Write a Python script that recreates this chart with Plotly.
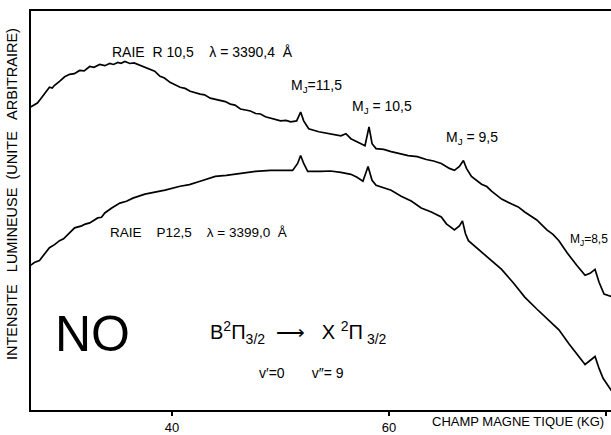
import plotly.graph_objects as go

# Champ magnetique (kG) and intensite (unite arbitraire)
field_r = [26.94, 27.3, 27.59, 27.9, 28.24, 28.70, 28.95, 29.17, 29.63, 30.1, 30.56, 31.0, 31.48, 31.9, 32.41, 32.8, 33.33,
           33.8, 34.26, 34.6, 35.00, 35.3, 35.65, 36.11, 36.5, 37.04, 37.5, 37.96, 38.4, 38.89, 39.3, 39.81, 40.74, 41.2,
           41.67, 42.59, 43.0, 43.52, 44.44, 44.9, 45.37, 45.8, 46.30, 47.22, 47.7, 48.15, 48.6, 49.07, 50.00,
           50.5, 50.93, 51.48, 51.85, 52.13, 52.59, 53.52, 54.63, 55.56, 56.02, 56.48, 57.41, 57.78, 58.15,
           58.43, 58.80, 59.5, 60.19, 61.0, 61.76, 62.6, 63.43, 64.1, 64.81, 65.56, 66.02, 66.48, 66.85, 67.13,
           67.59, 68.52, 69.0, 69.44, 70.37, 71.30, 71.9, 72.50, 73.61, 74.54, 75.1, 75.65, 76.39, 77.31, 78.06,
           78.52, 78.98, 79.35, 79.81, 80.65]
intens_r = [75.93, 76.6, 76.92, 78.0, 79.16, 80.89, 80.7, 81.39, 82.38, 83.5, 84.12, 84.3, 85.11, 85.0, 86.10, 85.9, 86.60,
            86.3, 86.85, 86.6, 87.10, 86.9, 87.34, 86.85, 87.0, 86.35, 86.0, 85.36, 84.9, 83.62, 83.2, 82.13, 80.89, 80.6,
            79.90, 79.16, 79.0, 78.16, 77.67, 77.3, 76.67, 76.4, 75.43, 74.94, 74.3, 74.19, 73.5, 73.20, 72.46,
            72.6, 72.21, 72.46, 74.69, 72.46, 70.47, 69.73, 69.23, 68.73, 69.23, 67.99, 66.75, 66.25, 70.97,
            66.75, 65.51, 65.3, 64.76, 64.3, 63.77, 63.5, 62.78, 62.4, 61.79, 60.55, 60.05, 61.04, 62.53, 60.55,
            58.56, 56.58, 56.0, 54.84, 52.85, 51.61, 50.9, 49.63, 47.64, 45.16, 44.0, 42.43, 39.45, 36.23, 33.75,
            34.24, 35.24, 32.01, 29.03, 28.29]

field_p = [26.94, 27.31, 27.78, 28.24, 28.70, 29.17, 29.63, 30.0, 30.37, 31.02, 31.67, 32.0, 32.41, 33.15, 33.5, 33.80,
           34.44, 35.19, 35.8, 36.39, 37.50, 38.43, 39.35, 40.74, 41.6, 42.59, 43.98, 45.0, 46.30, 47.69, 49.07,
           50.46, 51.11, 51.57, 51.85, 52.13, 52.50, 53.70, 54.6, 55.56, 56.48, 57.04, 57.59, 58.06, 58.43, 58.80,
           59.54, 60.19, 61.11, 62.04, 62.96, 63.89, 64.81, 65.28, 66.02, 66.48, 66.76, 67.04, 67.31, 68.24,
           69.17, 70.37, 71.48, 72.50, 73.61, 74.54, 75.65, 76.57, 77.50, 78.06, 78.52, 78.98, 79.35, 79.72, 80.65]
intens_p = [36.23, 36.97, 37.47, 38.96, 40.69, 41.44, 42.43, 42.9, 43.92, 45.66, 46.15, 46.6, 46.90, 48.14, 48.3, 49.38,
            50.62, 51.86, 52.3, 53.10, 54.09, 54.59, 55.09, 56.08, 56.5, 57.32, 58.56, 58.8, 59.31, 59.80, 60.05,
            60.05, 60.05, 61.79, 63.77, 61.79, 59.80, 59.80, 59.9, 59.55, 59.06, 58.31, 57.32, 61.04, 57.57, 56.33,
            55.58, 55.09, 53.60, 52.36, 50.62, 49.63, 48.39, 46.65, 45.16, 46.15, 47.39, 44.17, 42.43, 40.20,
            38.21, 35.24, 31.76, 28.29, 25.31, 22.83, 20.10, 16.63, 13.40, 11.41, 12.41, 13.40, 10.42, 7.94, 4.22]

tick_vals = [40, 60, 80]
tick_text = ["40", "60", ""]

FONT = "Liberation Sans"

fig = go.Figure()
fig.add_trace(go.Scatter(x=field_r, y=intens_r, mode="lines",
                         line=dict(color="black", width=1.7), showlegend=False))
fig.add_trace(go.Scatter(x=field_p, y=intens_p, mode="lines",
                         line=dict(color="black", width=1.7), showlegend=False))

ann = []
def A(text, x, y, size, xref="x", yref="y", xanchor="center", yanchor="middle", **kw):
    ann.append(dict(text=text, x=x, y=y, xref=xref, yref=yref, showarrow=False,
                    xanchor=xanchor, yanchor=yanchor,
                    font=dict(family=FONT, size=size, color="black"), **kw))

A("RAIE  R 10,5    λ = 3390,4  Å", 42.78, 89.8, 14)
A("M<sub>J</sub>=11,5", 53.3, 81.3, 14)
A("M<sub>J</sub> = 10,5", 59.35, 75.9, 14)
A("M<sub>J</sub> = 9,5", 67.6, 68.2, 14)
A("M<sub>J</sub>=8,5", 80.35, 42.6, 12, xanchor="right")
A("RAIE    P12,5    λ = 3399,0  Å", 42.4, 44.4, 13.5)
A("NO", 32.69, 19.0, 50)
A("B<sup>2</sup>Π<sub>3/2</sub>  ⟶   X <sup>2</sup>Π<sub> 3/2</sub>", 51.67, 19.3, 20)
A("v′=0       v″= 9", 51.94, 9.2, 14)
A("INTENSITE   LUMINEUSE  (UNITE   ARBITRAIRE)", -0.033, 54.1, 14.5, xref="paper", textangle=-90)
A("CHAMP MAGNE TIQUE (KG)", 71.9, -0.03, 13, yref="paper")

fig.update_layout(
    width=611, height=435,
    margin=dict(l=31, r=0, t=11, b=21),
    paper_bgcolor="white", plot_bgcolor="white",
    annotations=ann,
    xaxis=dict(range=[27.0, 80.45], showgrid=False, zeroline=False,
               showline=True, linecolor="black", linewidth=2, mirror=True,
               tickmode="array", tickvals=tick_vals, ticktext=tick_text,
               ticks="outside", ticklen=4, tickwidth=1.5, tickcolor="black",
               tickfont=dict(family=FONT, size=13, color="black")),
    yaxis=dict(range=[0, 100], showgrid=False, zeroline=False,
               showline=True, linecolor="black", linewidth=2,
               showticklabels=False, ticks=""),
)

fig.write_html("out.html", config={"displayModeBar": False},
               post_script="document.body.style.margin='0';document.body.style.overflow='hidden';")
